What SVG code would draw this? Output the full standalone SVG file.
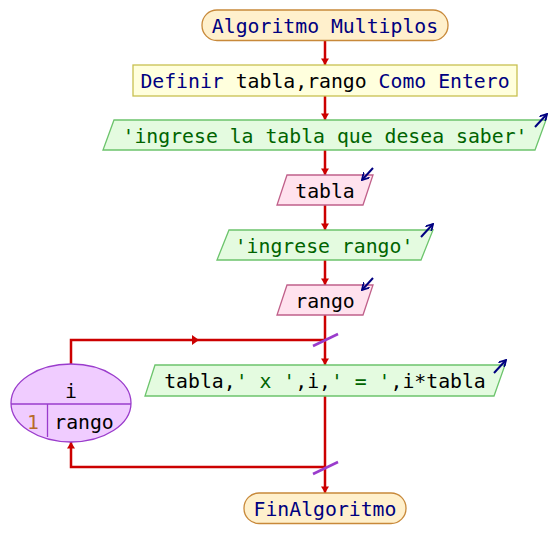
<svg xmlns="http://www.w3.org/2000/svg" width="551" height="558" viewBox="0 0 551 558">
<defs>
<style>
text{font-family:"DejaVu Sans Mono","Liberation Mono",monospace;font-size:19.8px;text-anchor:middle}
.kw{fill:#000080}.id{fill:#000000}.str{fill:#006400}.num{fill:#b86b2a}
.term{fill:#fff0cc;stroke:#c8893a;stroke-width:1.3}
.proc{fill:#ffffdd;stroke:#c8c050;stroke-width:1.3}
.out{fill:#e4fbe0;stroke:#6cc46c;stroke-width:1.3}
.inp{fill:#ffe2ee;stroke:#c0608a;stroke-width:1.3}
.loop{fill:#f0ccff;stroke:#9a3ccc;stroke-width:1.3}
.flow{fill:none;stroke:#cc0000;stroke-width:2.5}
.slash{stroke:#9a3ccc;stroke-width:2.5}
.io{fill:none;stroke:#000080;stroke-width:2}
</style>
<marker id="ah" markerUnits="userSpaceOnUse" markerWidth="10" markerHeight="8" viewBox="0 0 8 10" refX="8" refY="5" orient="auto">
<path d="M0,0 L8,5 L0,10 z" fill="#cc0000"/>
</marker>
<marker id="ioh" markerUnits="userSpaceOnUse" markerWidth="8" markerHeight="8" viewBox="0 0 8 8" refX="7" refY="4" orient="auto">
<path d="M0,0 L7,4 L0,8" fill="none" stroke="#000080" stroke-width="1.8"/>
</marker>
</defs>
<rect width="551" height="558" fill="#ffffff"/>
<g id="connectors">
<line class="flow" x1="325" y1="41" x2="325" y2="65" marker-end="url(#ah)"/>
<line class="flow" x1="325" y1="96" x2="325" y2="120" marker-end="url(#ah)"/>
<line class="flow" x1="325" y1="150" x2="325" y2="175" marker-end="url(#ah)"/>
<line class="flow" x1="325" y1="205" x2="325" y2="230" marker-end="url(#ah)"/>
<line class="flow" x1="325" y1="260" x2="325" y2="285" marker-end="url(#ah)"/>
<line class="flow" x1="325" y1="315" x2="325" y2="365" marker-end="url(#ah)"/>
<polyline class="flow" points="71,364 71,340 325,340"/>
<polygon points="192,335 199,340 192,345" fill="#cc0000"/>
<line class="flow" x1="325" y1="396" x2="325" y2="493" marker-end="url(#ah)"/>
<polyline class="flow" points="325,467 71,467 71,442" marker-end="url(#ah)"/>
<line class="slash" x1="313" y1="346" x2="338" y2="334"/>
<line class="slash" x1="313" y1="474" x2="338" y2="462"/>
</g>
<g id="start">
<rect class="term" x="202" y="10" width="246" height="30.5" rx="15" ry="15"/>
<text x="325" y="32.8" class="kw">Algoritmo Multiplos</text>
</g>
<g id="define">
<rect class="proc" x="133" y="65" width="384" height="31"/>
<text x="325" y="88"><tspan class="kw">Definir</tspan><tspan class="id"> tabla,rango </tspan><tspan class="kw">Como Entero</tspan></text>
</g>
<g id="out1">
<polygon class="out" points="114,120 546,120 535,150 103,150"/>
<text x="325" y="142.5" class="str">'ingrese la tabla que desea saber'</text>
<line class="io" x1="535" y1="127" x2="547" y2="114" marker-end="url(#ioh)"/>
</g>
<g id="in1">
<polygon class="inp" points="287,175 373,175 363,205 277,205"/>
<text x="325" y="197.5" class="id">tabla</text>
<line class="io" x1="373" y1="168" x2="362" y2="180" marker-end="url(#ioh)"/>
</g>
<g id="out2">
<polygon class="out" points="229,230 433,230 421,260 217,260"/>
<text x="324" y="252.5" class="str">'ingrese rango'</text>
<line class="io" x1="421" y1="237" x2="433" y2="224" marker-end="url(#ioh)"/>
</g>
<g id="in2">
<polygon class="inp" points="287,285 373,285 363,315 277,315"/>
<text x="325" y="307.5" class="id">rango</text>
<line class="io" x1="373" y1="278" x2="362" y2="290" marker-end="url(#ioh)"/>
</g>
<g id="loop">
<ellipse class="loop" cx="71" cy="403" rx="60" ry="39"/>
<line class="loop" x1="11" y1="404" x2="131" y2="404"/>
<line class="loop" x1="47.5" y1="404" x2="47.5" y2="437"/>
<text x="71" y="398" class="id">i</text>
<text x="33" y="429" class="num">1</text>
<text x="84" y="429" class="id">rango</text>
</g>
<g id="out3">
<polygon class="out" points="155,365 505,365 494,396 145,396"/>
<text x="325" y="388"><tspan class="id">tabla,</tspan><tspan class="str">' x '</tspan><tspan class="id">,i,</tspan><tspan class="str">' = '</tspan><tspan class="id">,i*tabla</tspan></text>
<line class="io" x1="494" y1="373" x2="506" y2="360" marker-end="url(#ioh)"/>
</g>
<g id="end">
<rect class="term" x="244" y="493" width="162" height="30.5" rx="15" ry="15"/>
<text x="325" y="515.5" class="kw">FinAlgoritmo</text>
</g>
</svg>
